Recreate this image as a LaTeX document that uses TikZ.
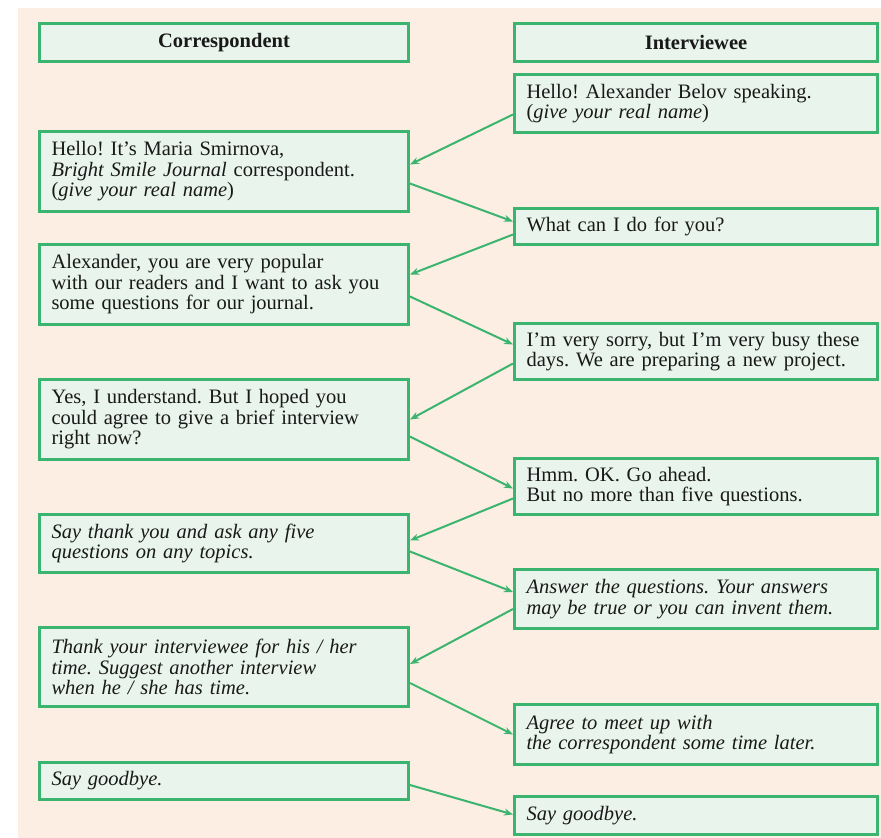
\documentclass[tikz,border=0pt]{standalone}
\usepackage{fontspec}
\setmainfont{Liberation Serif}
\usepackage{tikz}
\usetikzlibrary{arrows.meta, positioning, calc}
\definecolor{pagepeach}{RGB}{253,238,228}
\definecolor{boxmint}{RGB}{232,244,236}
\definecolor{boxgreen}{RGB}{58,180,110}
\definecolor{inkgray}{RGB}{25,25,25}
\frenchspacing

\begin{document}
\begin{tikzpicture}[x=1pt, y=-1pt,
    box/.style={rectangle, draw=boxgreen, fill=boxmint, line width=3pt,
                anchor=north west, align=left, inner xsep=12pt, inner ysep=0pt,
                text=inkgray, font=\fontsize{20.5}{20.5}\selectfont},
    cbox/.style={box, minimum width=369pt, text width=345pt},
    ibox/.style={box, minimum width=363pt, text width=339pt},
    head/.style={align=center, font=\fontsize{20.5}{20.5}\selectfont\bfseries},
    arrow/.style={draw=boxgreen, line width=2pt, -{Stealth[length=9pt,width=7pt]}}]

\useasboundingbox (0,0) rectangle (881,838);
\fill[white] (0,0) rectangle (881,838);
\fill[pagepeach] (18,8) rectangle (881,838);

% column headings
\node (hcor) [cbox, head, minimum height=38pt] at (38,22)  {Correspondent};
\node (hint) [ibox, head, minimum height=38pt] at (513,22) {Interviewee};

% correspondent side
\node (c1) [cbox, minimum height=80pt] at (38,130) {Hello! It's Maria Smirnova,\\\textit{Bright Smile Journal} correspondent.\\(\textit{give your real name})};
\node (c2) [cbox, minimum height=80pt] at (38,243) {Alexander, you are very popular\\with our readers and I want to ask you\\some questions for our journal.};
\node (c3) [cbox, minimum height=80pt] at (38,378) {Yes, I understand. But I hoped you\\could agree to give a brief interview\\right now?};
\node (c4) [cbox, minimum height=58pt] at (38,513) {\itshape Say thank you and ask any five\\\itshape questions on any topics.};
\node (c5) [cbox, minimum height=79pt] at (38,626) {\itshape Thank your interviewee for his / her\\\itshape time. Suggest another interview\\\itshape when he / she has time.};
\node (c6) [cbox, minimum height=37pt] at (38,761) {\itshape Say goodbye.};

% interviewee side
\node (i1) [ibox, minimum height=58pt] at (513,73)  {Hello! Alexander Belov speaking.\\(\textit{give your real name})};
\node (i2) [ibox, minimum height=36pt] at (513,207) {What can I do for you?};
\node (i3) [ibox, minimum height=56pt] at (513,322) {I'm very sorry, but I'm very busy these\\days. We are preparing a new project.};
\node (i4) [ibox, minimum height=56pt] at (513,457) {Hmm. OK. Go ahead.\\But no more than five questions.};
\node (i5) [ibox, minimum height=59pt] at (513,568) {\itshape Answer the questions. Your answers\\\itshape may be true or you can invent them.};
\node (i6) [ibox, minimum height=60pt] at (513,703) {\itshape Agree to meet up with\\\itshape the correspondent some time later.};
\node (i7) [ibox, minimum height=38pt] at (513,795) {\itshape Say goodbye.};

% turns of the dialogue
\draw [arrow] ([yshift=-11pt]i1.west) -- ([yshift=7pt]c1.east);
\draw [arrow] ([yshift=-12pt]c1.east) -- ([yshift=5pt]i2.west);
\draw [arrow] ([yshift=-8pt]i2.west)  -- ([yshift=10pt]c2.east);
\draw [arrow] ([yshift=-12pt]c2.east) -- ([yshift=7pt]i3.west);
\draw [arrow] ([yshift=-12pt]i3.west) -- (c3.east);
\draw [arrow] ([yshift=-17pt]c3.east) -- ([yshift=-2pt]i4.west);
\draw [arrow] ([yshift=-12pt]i4.west) -- ([yshift=3pt]c4.east);
\draw [arrow] ([yshift=-8pt]c4.east)  -- ([yshift=7pt]i5.west);
\draw [arrow] ([yshift=-10pt]i5.west) -- ([yshift=3pt]c5.east);
\draw [arrow] ([yshift=-16pt]c5.east) -- (i6.west);
\draw [arrow] ([yshift=-4pt]c6.east)  -- ([yshift=1pt]i7.west);
\end{tikzpicture}
\end{document}
